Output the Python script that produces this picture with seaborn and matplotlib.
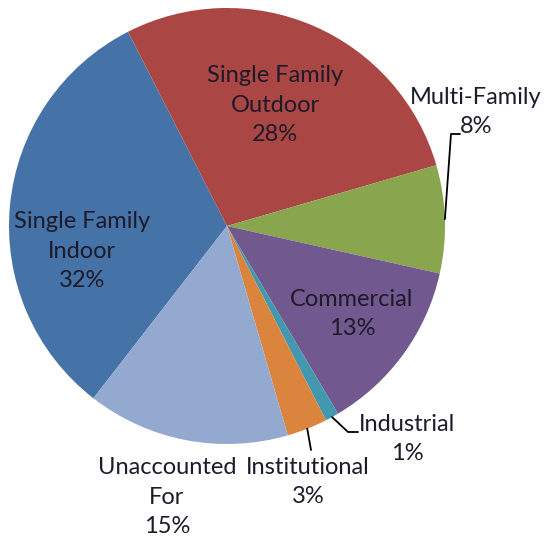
import matplotlib
matplotlib.use("Agg")
import matplotlib.pyplot as plt
import seaborn as sns
import numpy as np

# ---- data ----
categories = ["Single Family\nIndoor", "Single Family\nOutdoor", "Multi-Family",
              "Commercial", "Industrial", "Institutional", "Unaccounted\nFor"]
values = [32, 28, 8, 13, 1, 3, 15]
colors = ["#4572A7", "#AA4643", "#89A54E", "#71588F", "#4198AF", "#DB843D", "#93A9CF"]

sns.set_style("white")
plt.rcParams['font.family'] = ['Lato', 'DejaVu Sans']

W, H = 544, 542
fig = plt.figure(figsize=(W / 100, H / 100), dpi=100)
ax = fig.add_axes([0, 0, 1, 1])

def Y(py):
    return H - py

cx, cy, R = 227, Y(226), 218
wedges, _ = ax.pie(values, colors=colors, startangle=232.2, counterclock=False,
                   radius=R, center=(cx, cy), wedgeprops=dict(linewidth=0),
                   frame=True)
ax.set_xlim(0, W)
ax.set_ylim(0, H)
ax.set_aspect('auto')
ax.axis('off')

# label layout (pixel positions of text block centres)
label_pos = {
    0: (82, 251),
    1: (275, 105),
    2: (476, 112),
    3: (352, 314),
    4: (407, 439),
    5: (308, 482),
    6: (167, 497),
}
# leader elbows / ends (pixel), only for outside labels
leaders = {
    2: [(451, 134), (460, 134)],
    4: [(348, 432), (358, 432)],
    5: [(311, 450)],
}
text_color = "#1E1A2A"
fs = 17
for i, (cat, v) in enumerate(zip(categories, values)):
    x, y = label_pos[i]
    ax.text(x, Y(y), f"{cat}\n{v}%", ha='center', va='center', fontsize=fs,
            color=text_color, linespacing=1.5)
    if i in leaders:
        w = wedges[i]
        mid = np.deg2rad((w.theta1 + w.theta2) / 2)
        sx, sy = cx + R * np.cos(mid), cy + R * np.sin(mid)
        xs = [sx] + [p[0] for p in leaders[i]]
        ys = [sy] + [Y(p[1]) for p in leaders[i]]
        ax.plot(xs, ys, color="black", lw=1.3)

fig.savefig("out.png", dpi=100)
